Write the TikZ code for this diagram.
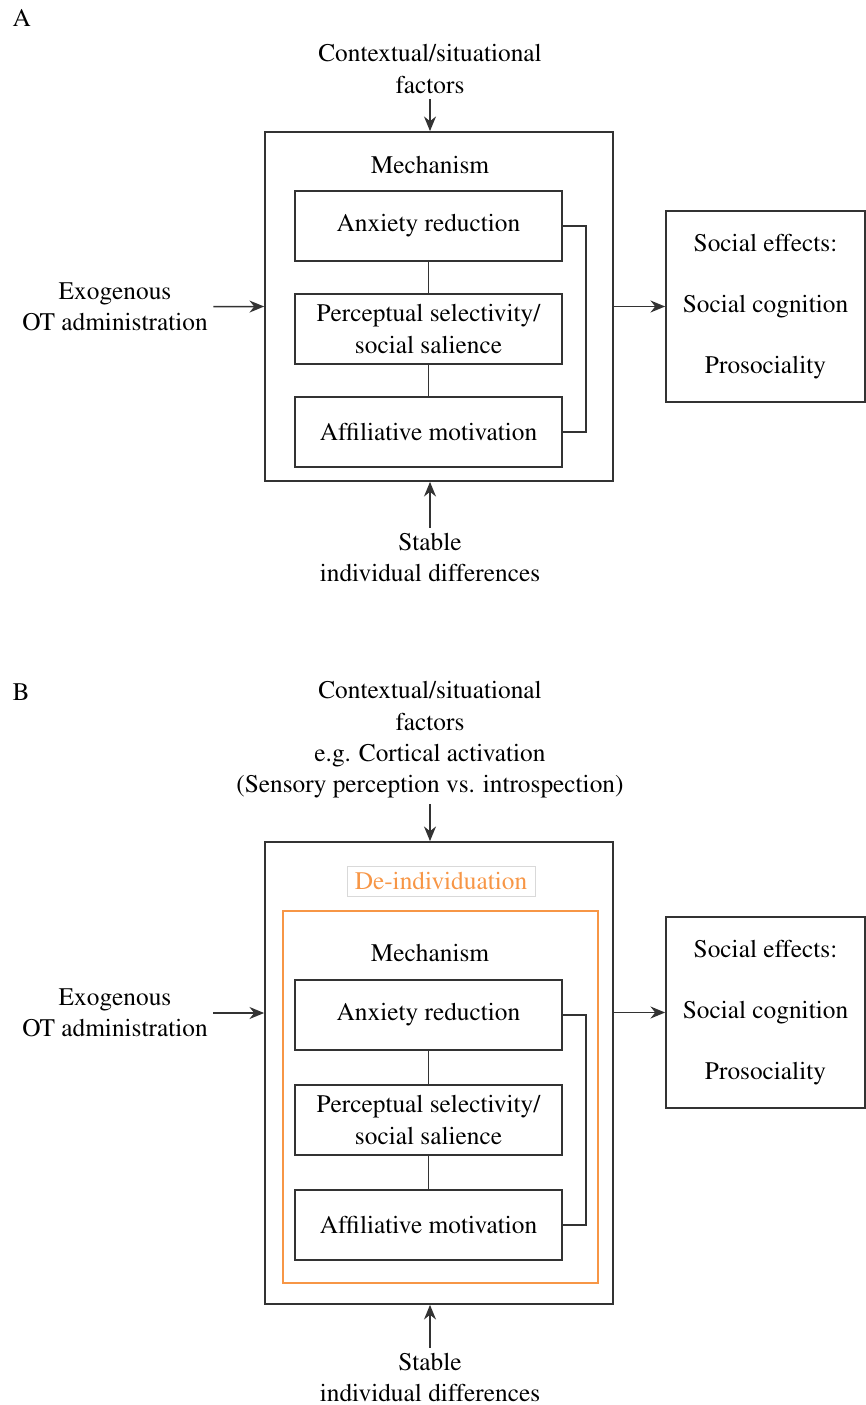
\documentclass[tikz,border=0pt]{standalone}
\usepackage[T1]{fontenc}
\usepackage{mathptmx}
\usetikzlibrary{arrows.meta}
\definecolor{deorange}{HTML}{F79646}
\definecolor{linegray}{HTML}{333333}

\begin{document}
\begin{tikzpicture}[x=0.75pt,y=-0.75pt,
  font=\fontsize{19}{23.5}\selectfont,
  arrow/.style={-{Stealth[length=11pt,width=9pt]},line width=1.1pt,draw=linegray},
  link/.style={line width=1.3pt,draw=linegray},
  frame/.style={draw=linegray,line width=1.3pt,inner sep=0pt},
  mechbox/.style={frame,minimum width=200pt,minimum height=52.5pt,align=center},
  effbox/.style={frame,minimum width=149.25pt,minimum height=143.25pt,align=center},
  txt/.style={align=center,inner sep=4pt}]
  \useasboundingbox (0,0) rectangle (866,1405);

  % panel A
  \node[anchor=west] (labA) at (8,18) {A};
  \node[frame,minimum width=261pt,minimum height=261.75pt] (outerA) at (439,306.5) {};
  \node (mechA) at (430,165) {Mechanism};
  \node[mechbox] (anxA) at (428.5,226) {Anxiety reduction};
  \node[mechbox] (percA) at (428.5,329) {Perceptual selectivity/\\social salience};
  \node[mechbox] (affA) at (428.5,432) {Affiliative motivation};
  \draw[link] (anxA) -- (percA);
  \draw[link] (percA) -- (affA);
  \draw[link] (anxA.east) -- ++(23,0) |- (affA.east);

  \node[effbox] (socA) at (765.5,306.5) {Social effects:\\[22pt]Social cognition\\[22pt]Prosociality};
  \draw[arrow] (outerA.east) -- (socA.west);

  \node[txt] (exoA) at (115,307) {Exogenous\\OT administration};
  \draw[arrow] (exoA) -- (outerA.west);
  \node[txt] (ctxA) at (430,69) {Contextual/situational\\factors};
  \draw[arrow] (ctxA) -- (ctxA |- outerA.north);
  \node[txt] (stabA) at (430,557.5) {Stable\\individual differences};
  \draw[arrow] (stabA) -- (stabA |- outerA.south);

  % panel B
  \node[anchor=west] (labB) at (8,692) {B};
  \node[frame,minimum width=261pt,minimum height=346.5pt] (outerB) at (439,1073) {};
  \node[frame,draw=black!15,line width=0.6pt,minimum width=141pt,minimum height=22.5pt,text=deorange] (deindB) at (441,881) {De-individuation};
  \node[frame,draw=deorange,minimum width=236.25pt,minimum height=279pt] (orangeB) at (440.5,1097) {};
  \node (mechB) at (430,953) {Mechanism};
  \node[mechbox] (anxB) at (428.5,1015) {Anxiety reduction};
  \node[mechbox] (percB) at (428.5,1120) {Perceptual selectivity/\\social salience};
  \node[mechbox] (affB) at (428.5,1225) {Affiliative motivation};
  \draw[link] (anxB) -- (percB);
  \draw[link] (percB) -- (affB);
  \draw[link] (anxB.east) -- ++(23,0) |- (affB.east);

  \node[effbox] (socB) at (765.5,1012.5) {Social effects:\\[22pt]Social cognition\\[22pt]Prosociality};
  \draw[arrow] (outerB.east |- socB) -- (socB.west);

  \node[txt] (exoB) at (115,1013) {Exogenous\\OT administration};
  \draw[arrow] (exoB) -- (exoB -| outerB.west);
  \node[txt] (ctxB) at (430,740) {Contextual/situational\\factors\\e.g. Cortical activation\\(Sensory perception vs. introspection)};
  \draw[arrow] (ctxB) -- (ctxB |- outerB.north);
  \node[txt] (stabB) at (430,1377.5) {Stable\\individual differences};
  \draw[arrow] (stabB) -- (stabB |- outerB.south);
\end{tikzpicture}
\end{document}
